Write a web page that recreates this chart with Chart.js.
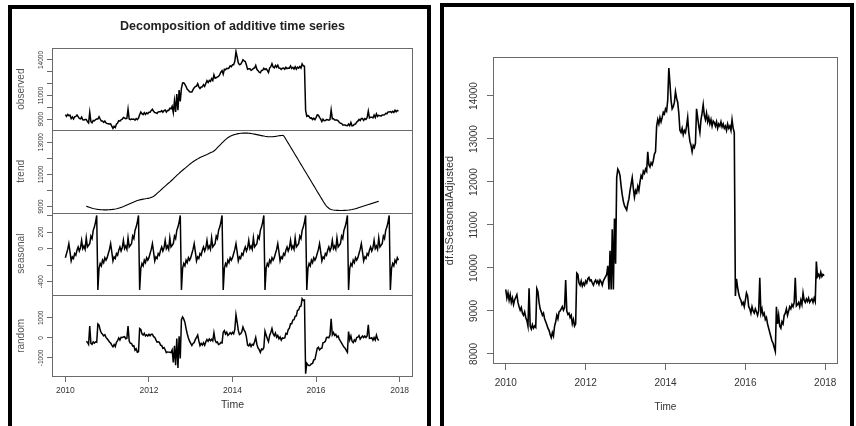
<!DOCTYPE html>
<html>
<head>
<meta charset="utf-8">
<script src="https://cdn.jsdelivr.net/npm/chart.js@4.4.1/dist/chart.umd.min.js"></script>
<style>
  html, body { margin: 0; padding: 0; background: #fff; }
  #page { position: relative; width: 856px; height: 426px; overflow: hidden; background: #fff; }
  .frame { position: absolute; border: 4px solid #000; box-sizing: border-box; }
  #frameL { left: 8px; top: 5px; width: 423px; height: 440px; }
  #frameR { left: 440px; top: 3px; width: 414px; height: 440px; }
  canvas { position: absolute; }
  #decomp { left: 12px; top: 9px; width: 415px; height: 417px; }
  #adjusted { left: 444px; top: 7px; width: 408px; height: 419px; }
</style>
</head>
<body>
<div id="page">
  <div class="frame" id="frameL"></div>
  <div class="frame" id="frameR"></div>
  <canvas id="decomp" width="415" height="417"></canvas>
  <canvas id="adjusted" width="408" height="419"></canvas>
</div>
<script>
// ---- series: 36 observations per year, starting at 2010.0 ----
const startYear = 2010;
const perYear = 36;

// seasonally adjusted series (one row per year, 2010 .. 2017)
const seasAdjusted = [
  9500, 9300, 9420, 9250, 9380, 9200, 9300, 9150, 9260, 9320, 9380, 9200, 9100, 9020, 9080, 8950, 8900, 8980, 8850, 8780, 8650, 9530, 8650, 8580, 8680, 8600, 8650, 8620, 9520, 9450, 9200, 9050, 8980, 8900, 8950, 8820,
  8750, 8680, 8600, 8550, 8450, 8380, 8500, 8420, 8650, 8750, 8900, 8820, 8980, 9000, 9050, 9100, 9020, 9080, 9720, 9000, 8920, 8950, 8850, 8900, 8700, 8800, 8650, 8700, 9880, 9850, 9650, 9600, 9700, 9580, 9650, 9600,
  9700, 9650, 9750, 9780, 9700, 9720, 9650, 9600, 9680, 9720, 9650, 9700, 9620, 9720, 9680, 9600, 9700, 9750, 9800, 9850, 10050, 9500, 10400, 9500, 10900, 9500, 11150, 10100, 12100, 12300, 12250, 12150, 11900, 11700, 11550, 11450,
  11400, 11350, 11500, 11600, 11800, 11950, 12100, 11850, 11650, 11800, 11750, 11900, 11800, 12000, 12150, 12100, 12250, 12200, 12300, 12250, 12700, 12400, 12350, 12450, 12400, 12500, 12650, 12700, 13300, 13450, 13350, 13500, 13400, 13500, 13620, 13580,
  13700, 13650, 13900, 14650, 14300, 13900, 13700, 13750, 13850, 14100, 13950, 13850, 13600, 13200, 13150, 13250, 13100, 13200, 13150, 13300, 13500, 13150, 12950, 12850, 12700, 12850, 12800, 12900, 13700, 13500, 13300, 13150, 13450, 13600, 13800, 13550,
  13450, 13600, 13400, 13500, 13350, 13450, 13300, 13420, 13380, 13300, 13400, 13250, 13350, 13300, 13400, 13280, 13350, 13250, 13300, 13200, 13350, 13250, 13300, 13200, 13450, 13250, 13150, 9350, 9750, 9550, 9400, 9300, 9250, 9150, 9200, 9100,
  9250, 9420, 9350, 9100, 9050, 8950, 9100, 9000, 8950, 9050, 8980, 8900, 9000, 9770, 8950, 9050, 8900, 8950, 8800, 8850, 8700, 8600, 8500, 8400, 8300, 8250, 8150, 8060, 9100, 8700, 8900, 8650, 8600, 8750, 8700, 8900,
  8950, 9050, 8900, 9000, 9100, 9050, 9150, 9100, 9200, 9770, 9120, 9150, 9200, 9100, 9250, 9150, 9420, 9250, 9200, 9280, 9220, 9300, 9200, 9250, 9280, 9200, 9300, 9220, 10150, 9800, 9850, 9780, 9900, 9800, 9850, 9820
];

// one period of the seasonal component (repeats every year)
const seasonalFigure = [
  -110, -60, -10, 60, -40, -150, -100, -120, -60, -80, -20, 20, -30, 10, 100, 0, 30, -10,
  130, 20, 40, 60, 150, 120, 220, 260, 320, 400, -500, -240, -180, -210, -140, -170, -110, -140
];

// centred moving-average trend, defined from mid-2010 to mid-2017
const trendStartIndex = 18;
const trendValues = [
  9020, 8995, 8970, 8945, 8920, 8900, 8880, 8862, 8848, 8835, 8825, 8817, 8810, 8805, 8800, 8797, 8795, 8795,
  8795, 8798, 8802, 8808, 8815, 8825, 8836, 8850, 8866, 8884, 8904, 8926, 8950, 8976, 9004, 9034, 9066, 9098, 9130, 9162, 9194, 9225, 9256, 9286, 9316, 9346, 9370, 9395, 9415, 9432, 9447, 9460, 9472, 9484, 9496, 9510,
  9525, 9545, 9570, 9600, 9640, 9690, 9750, 9815, 9880, 9945, 10010, 10075, 10140, 10205, 10270, 10335, 10400, 10460, 10520, 10585, 10650, 10720, 10790, 10860, 10930, 11000, 11065, 11130, 11195, 11255, 11315, 11375, 11435, 11495, 11555, 11615,
  11675, 11730, 11780, 11830, 11875, 11920, 11960, 12000, 12040, 12075, 12110, 12140, 12170, 12200, 12230, 12270, 12305, 12340, 12370, 12400, 12445, 12510, 12580, 12655, 12730, 12805, 12880, 12950, 13020, 13090, 13160, 13220, 13275, 13320, 13360, 13395,
  13425, 13452, 13475, 13495, 13512, 13526, 13538, 13547, 13554, 13559, 13562, 13563, 13562, 13558, 13552, 13544, 13534, 13522, 13509, 13495, 13480, 13465, 13450, 13435, 13420, 13405, 13390, 13376, 13363, 13352, 13343, 13337, 13333, 13332, 13334, 13340,
  13348, 13358, 13370, 13382, 13394, 13405, 13415, 13425, 13400, 13300, 13180, 13060, 12940, 12820, 12700, 12580, 12460, 12340, 12220, 12100, 11980, 11860, 11740, 11620, 11500, 11380, 11260, 11140, 11020, 10900, 10780, 10660, 10540, 10420, 10300, 10180,
  10060, 9940, 9820, 9700, 9580, 9460, 9340, 9225, 9120, 9030, 8955, 8895, 8850, 8818, 8797, 8783, 8774, 8768, 8764, 8761, 8759, 8758, 8758, 8759, 8761, 8764, 8768, 8774, 8782, 8792, 8804, 8818, 8834, 8851, 8869, 8888,
  8915, 8938, 8961, 8984, 9007, 9030, 9053, 9076, 9099, 9122, 9145, 9168, 9191, 9214, 9237, 9260, 9283, 9306, 9330
];

// axis ticks and the subset that carries a label
const xTickYears = [2010, 2012, 2014, 2016, 2018];
const observedTicks = [9000, 10000, 11000, 12000, 13000, 14000];
const observedLabels = [9000, 11000, 14000];
const trendTicks = [9000, 10000, 11000, 12000, 13000];
const trendLabels = [9000, 11000, 13000];
const seasonalTicks = [-400, -200, 0, 200, 400];
const seasonalLabels = [-400, 0, 200];
const randomTicks = [-1000, 0, 1000];
const randomLabels = [-1000, 0, 1000];
const adjustedTicks = [8000, 9000, 10000, 11000, 12000, 13000, 14000];

// ---- derived series ----
const timeAt = i => startYear + i / perYear;
const seasonalPts = seasAdjusted.map((_, i) => ({ x: timeAt(i), y: seasonalFigure[i % perYear] }));
const observedPts = seasAdjusted.map((v, i) => ({ x: timeAt(i), y: v + seasonalFigure[i % perYear] }));
const trendPts = trendValues.map((v, k) => ({ x: timeAt(trendStartIndex + k), y: v }));
const randomPts = trendValues.map((v, k) => ({ x: timeAt(trendStartIndex + k), y: seasAdjusted[trendStartIndex + k] - v }));
const adjustedPts = seasAdjusted.map((v, i) => ({ x: timeAt(i), y: v }));

// ---- styling helpers ----
const FONT = '"Liberation Sans", Arial, Helvetica, sans-serif';
const axisColor = '#6a6a6a';
const textColor = '#333';
const fixedTicks = values => scale => { scale.ticks = values.map(v => ({ value: v })); };

function vText(ctx, text, x, y, size, color, weight) {
  ctx.save();
  ctx.translate(x, y);
  ctx.rotate(-Math.PI / 2);
  ctx.font = (weight ? weight + ' ' : '') + size + 'px ' + FONT;
  ctx.fillStyle = color;
  ctx.textAlign = 'center';
  ctx.textBaseline = 'middle';
  ctx.fillText(text, 0, 0);
  ctx.restore();
}
function hText(ctx, text, x, y, size, color, weight) {
  ctx.save();
  ctx.font = (weight ? weight + ' ' : '') + size + 'px ' + FONT;
  ctx.fillStyle = color;
  ctx.textAlign = 'center';
  ctx.textBaseline = 'middle';
  ctx.fillText(text, x, y);
  ctx.restore();
}

const lineDataset = (data, yAxisID, width) => ({
  data, yAxisID, xAxisID: 'x',
  borderColor: '#000', borderWidth: width, pointRadius: 0, tension: 0, fill: false
});

function xAxis(height, tickLength, padding, fontSize) {
  return {
    type: 'linear', position: 'bottom', min: 2009.68, max: 2018.32,
    afterBuildTicks: fixedTicks(xTickYears),
    afterFit: s => { s.height = height; },
    grid: { drawOnChartArea: false, drawTicks: true, tickLength, color: axisColor, lineWidth: 1 },
    border: { display: false },
    ticks: { callback: v => String(v), autoSkip: false, maxRotation: 0, minRotation: 0,
             padding, color: textColor, font: { family: FONT, size: fontSize } }
  };
}

function panelAxis(min, max, tickValues, weight) {
  return {
    type: 'linear', position: 'left', stack: 'decomp', stackWeight: 1, weight,
    min, max, offset: false,
    afterBuildTicks: fixedTicks(tickValues),
    afterFit: s => { s.width = 40; },
    grid: { drawOnChartArea: false, drawTicks: true, tickLength: 5, color: axisColor, lineWidth: 1 },
    border: { display: false },
    ticks: { display: false }
  };
}

// ---- decomposition chart: four stacked panels ----
const panels = [
  { id: 'yObs', title: 'observed', labels: observedLabels },
  { id: 'yTrend', title: 'trend', labels: trendLabels },
  { id: 'ySeas', title: 'seasonal', labels: seasonalLabels },
  { id: 'yRand', title: 'random', labels: randomLabels }
];

const decompDecor = {
  id: 'decompDecor',
  afterDraw(chart) {
    const { ctx, chartArea: a } = chart;
    ctx.save();
    ctx.strokeStyle = axisColor;
    ctx.lineWidth = 1;
    const L = Math.round(a.left), R = Math.round(a.right), T = Math.round(a.top), B = Math.round(a.bottom);
    ctx.strokeRect(L + 0.5, T + 0.5, R - L - 1, B - T - 1);
    panels.slice(1).forEach(p => {
      const y = Math.round(chart.scales[p.id].top) + 0.5;
      ctx.beginPath(); ctx.moveTo(L, y); ctx.lineTo(R, y); ctx.stroke();
    });
    ctx.restore();
    panels.forEach(p => {
      const s = chart.scales[p.id];
      p.labels.forEach(v => vText(ctx, String(v), 29.7, s.getPixelForValue(v), 6.5, textColor));
      vText(ctx, p.title, 9.7, (s.top + s.bottom) / 2, 10, '#555');
    });
    const cx = (a.left + a.right) / 2;
    hText(ctx, 'Decomposition of additive time series', cx, 18, 12.5, '#222', 'bold');
    hText(ctx, 'Time', cx, 396, 10.5, textColor);
  }
};

new Chart(document.getElementById('decomp'), {
  type: 'line',
  data: {
    datasets: [
      lineDataset(observedPts, 'yObs', 1.5),
      lineDataset(trendPts, 'yTrend', 1.1),
      lineDataset(seasonalPts, 'ySeas', 1.5),
      lineDataset(randomPts, 'yRand', 1.5)
    ]
  },
  options: {
    responsive: false, animation: false, devicePixelRatio: 1, events: [],
    layout: { padding: { top: 39, right: 14, bottom: 0, left: 0 } },
    plugins: { legend: { display: false }, tooltip: { enabled: false }, title: { display: false } },
    scales: {
      x: xAxis(49, 5, 4, 8.5),
      yObs: panelAxis(8070, 15010, observedTicks, 4),
      yTrend: panelAxis(8631, 13738, trendTicks, 3),
      ySeas: panelAxis(-558, 436, seasonalTicks, 2),
      yRand: panelAxis(-1950, 2150, randomTicks, 1)
    }
  },
  plugins: [decompDecor]
});

// ---- seasonally adjusted chart ----
const adjustedDecor = {
  id: 'adjustedDecor',
  afterDraw(chart) {
    const { ctx, chartArea: a } = chart;
    const s = chart.scales.y;
    ctx.save();
    ctx.strokeStyle = axisColor;
    ctx.lineWidth = 1;
    const L = Math.round(a.left), R = Math.round(a.right), T = Math.round(a.top), B = Math.round(a.bottom);
    ctx.strokeRect(L + 0.5, T + 0.5, R - L - 1, B - T - 1);
    ctx.restore();
    adjustedTicks.forEach(v => vText(ctx, String(v), 30, s.getPixelForValue(v), 10, textColor));
    vText(ctx, 'df.tsSeasonalAdjusted', 5.5, (a.top + a.bottom) / 2, 11, textColor);
    hText(ctx, 'Time', (a.left + a.right) / 2, 400.5, 10, textColor);
  }
};

new Chart(document.getElementById('adjusted'), {
  type: 'line',
  data: { datasets: [lineDataset(adjustedPts, 'y', 1.6)] },
  options: {
    responsive: false, animation: false, devicePixelRatio: 1, events: [],
    layout: { padding: { top: 50, right: 14, bottom: 0, left: 0 } },
    plugins: { legend: { display: false }, tooltip: { enabled: false }, title: { display: false } },
    scales: {
      x: xAxis(62, 6, 7, 10),
      y: {
        type: 'linear', position: 'left', min: 7767, max: 14907,
        afterBuildTicks: fixedTicks(adjustedTicks),
        afterFit: s => { s.width = 49; },
        grid: { drawOnChartArea: false, drawTicks: true, tickLength: 6, color: axisColor, lineWidth: 1 },
        border: { display: false },
        ticks: { display: false }
      }
    }
  },
  plugins: [adjustedDecor]
});
</script>
</body>
</html>
